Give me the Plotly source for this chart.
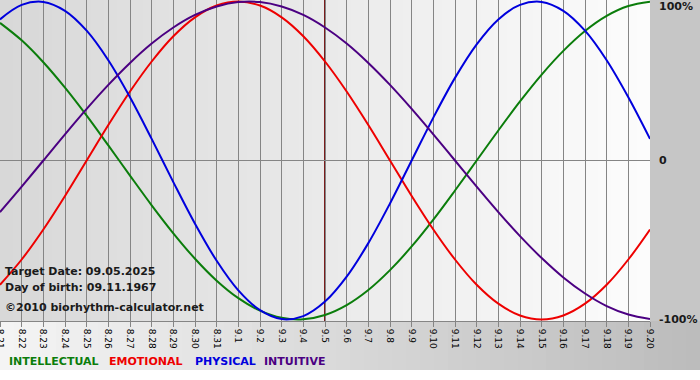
import plotly.graph_objects as go

# ---- data ----
days = ["8.21", "8.22", "8.23", "8.24", "8.25", "8.26", "8.27", "8.28", "8.29", "8.30", "8.31",
        "9.1", "9.2", "9.3", "9.4", "9.5", "9.6", "9.7", "9.8", "9.9", "9.10",
        "9.11", "9.12", "9.13", "9.14", "9.15", "9.16", "9.17", "9.18", "9.19", "9.20"]

intellectual = [0.866, 0.756, 0.618, 0.458, 0.282, 0.095, -0.095, -0.282, -0.458, -0.618, -0.756,
                -0.866, -0.945, -0.990, -0.999, -0.972, -0.910, -0.815, -0.690, -0.541, -0.372,
                -0.189, 0.000, 0.189, 0.372, 0.541, 0.690, 0.815, 0.910, 0.972, 0.999]

emotional = [-0.782, -0.623, -0.434, -0.223, 0.000, 0.223, 0.434, 0.623, 0.782, 0.901, 0.975,
             1.000, 0.975, 0.901, 0.782, 0.623, 0.434, 0.223, 0.000, -0.223, -0.434,
             -0.623, -0.782, -0.901, -0.975, -1.000, -0.975, -0.901, -0.782, -0.623, -0.434]

physical = [0.888, 0.979, 0.998, 0.942, 0.817, 0.631, 0.398, 0.136, -0.136, -0.398, -0.631,
            -0.817, -0.942, -0.998, -0.979, -0.888, -0.731, -0.520, -0.270, 0.000, 0.270,
            0.520, 0.731, 0.888, 0.979, 0.998, 0.942, 0.817, 0.631, 0.398, 0.136]

intuitive = [-0.325, -0.165, 0.000, 0.165, 0.325, 0.476, 0.614, 0.736, 0.837, 0.916, 0.969,
             0.997, 0.997, 0.969, 0.916, 0.837, 0.736, 0.614, 0.476, 0.325, 0.165,
             0.000, -0.165, -0.325, -0.476, -0.614, -0.736, -0.837, -0.916, -0.969, -0.997]

target_day = "9.5"
y_tick_vals = [1, 0, -1]
y_tick_text = ["100%", "0", "-100%"]
info_lines = ["Target Date: 09.05.2025", "Day of birth: 09.11.1967", "©2010 biorhythm-calculator.net"]
legend_names = ["INTELLECTUAL", "EMOTIONAL", "PHYSICAL", "INTUITIVE"]

# ---- styling ----
W, H = 700, 380
L, R, T, B = 0, 50, 0, 59
PW, PH = W - L - R, H - T - B

def fx(px):
    return (px - L) / PW

def fy(py):
    return 1 - (py - T) / PH

colors = {"INTELLECTUAL": "#0b7d0b", "EMOTIONAL": "#ee0000",
          "PHYSICAL": "#0000dd", "INTUITIVE": "#4b0082"}
FONT = "DejaVu Sans"

fig = go.Figure()
series = [("INTELLECTUAL", intellectual), ("EMOTIONAL", emotional),
          ("PHYSICAL", physical), ("INTUITIVE", intuitive)]
for name, vals in series:
    fig.add_trace(go.Scatter(x=days, y=vals, mode="lines", name=name,
                             line=dict(color=colors[name], width=2, shape="spline", smoothing=1.0),
                             showlegend=False, hoverinfo="x+y"))

shapes = []
# plot-area gradient (grey left -> white right)
n = 50
for i in range(n):
    t = i / (n - 1)
    c = int(round(216 + (252 - 216) * t))
    shapes.append(dict(type="rect", xref="paper", yref="paper", x0=i / n, x1=(i + 1) / n + 0.001,
                       y0=0, y1=1, fillcolor=f"rgb({c},{c},{c})", line_width=0, layer="below"))
# right margin
shapes.append(dict(type="rect", xref="paper", yref="paper", x0=1, x1=fx(W), y0=0, y1=1,
                   fillcolor="rgb(198,198,198)", line_width=0, layer="below"))
# bottom band gradient (light left -> grey right)
for i in range(n):
    t = i / (n - 1)
    c = int(round(244 + (188 - 244) * t))
    shapes.append(dict(type="rect", xref="paper", yref="paper",
                       x0=fx(W * i / n), x1=fx(W * (i + 1) / n + 1),
                       y0=fy(370), y1=0, fillcolor=f"rgb({c},{c},{c})", line_width=0, layer="below"))
# target-date line
ti = days.index(target_day)
shapes.append(dict(type="line", xref="x", yref="paper", x0=ti, x1=ti, y0=0, y1=1,
                   line=dict(color="#7a1c1c", width=2), layer="between"))

annotations = []
# right-hand percentage labels, placed on the y scale
for v, txt in zip(y_tick_vals, y_tick_text):
    annotations.append(dict(text=txt, xref="paper", yref="y", x=fx(657), y=v,
                            yshift=-5 if v == 1 else 0,
                            xanchor="left", yanchor="middle", showarrow=False,
                            font=dict(family=FONT, size=11, color="#1a1a1a", weight="bold")))
for i, txt in enumerate(info_lines):
    annotations.append(dict(text=txt, xref="paper", yref="paper", x=fx(3), y=fy([271, 287, 307][i]),
                            xanchor="left", yanchor="middle", showarrow=False,
                            font=dict(family=FONT, size=11, color="#1a1a1a", weight="bold")))
leg_x = [7, 107, 193, 262]
for name, x0 in zip(legend_names, leg_x):
    annotations.append(dict(text=name, xref="paper", yref="paper", x=fx(x0), y=fy(361),
                            xanchor="left", yanchor="middle", showarrow=False,
                            font=dict(family=FONT, size=11, color=colors[name], weight="bold")))

fig.update_layout(
    width=W, height=H, margin=dict(l=L, r=R, t=T, b=B, pad=0, autoexpand=False),
    paper_bgcolor="white", plot_bgcolor="rgba(0,0,0,0)",
    shapes=shapes, annotations=annotations, showlegend=False,
    xaxis=dict(type="category", range=[0, len(days) - 1], showgrid=True, gridcolor="#858585", gridwidth=1,
               tickangle=90, ticks="outside", ticklen=5, tickcolor="#858585",
               tickfont=dict(family=FONT, size=9, color="black"), automargin=False,
               showline=True, linecolor="#858585", linewidth=1, zeroline=False, fixedrange=True),
    yaxis=dict(range=[-1.01, 1.01], side="right", tickvals=y_tick_vals, showticklabels=False,
               showgrid=False, zeroline=True, zerolinecolor="#858585", zerolinewidth=1,
               ticks="", automargin=False, showline=False, fixedrange=True),
)

fig.write_html("out.html", config={"displayModeBar": False},
               post_script="document.body.style.margin='0';document.body.style.overflow='hidden';")
